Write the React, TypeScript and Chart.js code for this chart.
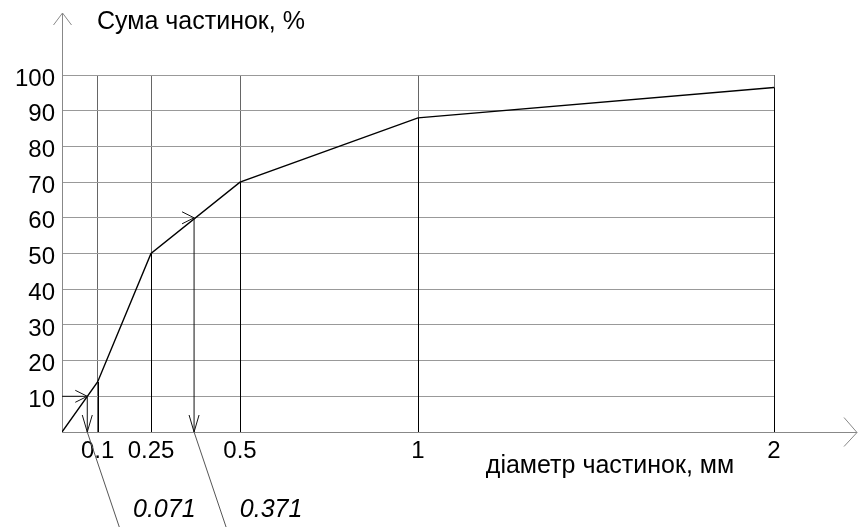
import React, { useEffect, useRef } from "react";
import { Chart, registerables } from "chart.js";

Chart.register(...registerables);

const diameters = [0, 0.1, 0.25, 0.5, 1, 2];
const cumulative = [0, 14, 50, 70, 88, 96.5];
const xTickValues = [0.1, 0.25, 0.5, 1, 2];
const yTickStep = 10;
const readX = [0.071, 0.371];
const readY = [10, 60];
const readLabels = ["0.071", "0.371"];
const yTitle = "Сума частинок, %";
const xTitle = "діаметр частинок, мм";

const FONT = "'Liberation Sans', Arial, sans-serif";

function line(ctx: CanvasRenderingContext2D, x1: number, y1: number, x2: number, y2: number) {
  ctx.beginPath();
  ctx.moveTo(x1, y1);
  ctx.lineTo(x2, y2);
  ctx.stroke();
}

const overlay = {
  id: "overlay",
  afterDraw(chart: any) {
    const ctx: CanvasRenderingContext2D = chart.ctx;
    const xs = chart.scales.x;
    const ys = chart.scales.y;
    const area = chart.chartArea;
    const x0 = xs.getPixelForValue(0);
    const y0 = ys.getPixelForValue(0);
    ctx.save();
    // drop lines
    ctx.strokeStyle = "#000";
    ctx.lineWidth = 1;
    for (let i = 1; i < diameters.length; i++) {
      const px = Math.round(xs.getPixelForValue(diameters[i])) + 0.5;
      line(ctx, px, ys.getPixelForValue(cumulative[i]), px, y0);
    }
    // axis extensions
    ctx.strokeStyle = "#888";
    line(ctx, x0 + 0.5, area.top, x0 + 0.5, 13);
    line(ctx, x0 - 8.5, 25, x0 + 0.5, 13);
    line(ctx, x0 + 9.5, 25, x0 + 0.5, 13);
    const xEnd = chart.width - 1;
    line(ctx, area.right, y0 + 0.5, xEnd, y0 + 0.5);
    line(ctx, xEnd - 13, y0 - 14.5, xEnd, y0 + 0.5);
    line(ctx, xEnd - 13, y0 + 14.5, xEnd, y0 + 0.5);
    // reading arrows
    for (let i = 0; i < readX.length; i++) {
      const px = xs.getPixelForValue(readX[i]);
      const py = ys.getPixelForValue(readY[i]);
      ctx.strokeStyle = "#111";
      if (i === 0) line(ctx, x0, py, px, py);
      line(ctx, px - 12, py - 6, px, py);
      line(ctx, px - 12, py + 6, px, py);
      line(ctx, px, py, px, y0);
      line(ctx, px - 5, y0 - 17, px, y0);
      line(ctx, px + 5, y0 - 17, px, y0);
      ctx.strokeStyle = "#555";
      line(ctx, px, y0, px + 32, chart.height);
      ctx.fillStyle = "#000";
      ctx.font = "italic 25px " + FONT;
      ctx.textAlign = "center";
      ctx.textBaseline = "middle";
      ctx.fillText(readLabels[i], px + 77, 510);
    }
    // titles
    ctx.fillStyle = "#000";
    ctx.font = "25px " + FONT;
    ctx.textAlign = "left";
    ctx.textBaseline = "middle";
    ctx.fillText(yTitle, 97, 22);
    ctx.textAlign = "center";
    ctx.fillText(xTitle, 610, 466);
    ctx.restore();
  },
};

export default function App() {
  const ref = useRef<HTMLCanvasElement>(null);
  useEffect(() => {
    if (!ref.current) return;
    const chart = new Chart(ref.current, {
      type: "line",
      data: {
        datasets: [
          {
            data: diameters.map((x, i) => ({ x, y: cumulative[i] })),
            borderColor: "#000",
            borderWidth: 1.4,
            pointRadius: 0,
            tension: 0,
            fill: false,
          },
        ],
      },
      options: {
        animation: false,
        responsive: false,
        maintainAspectRatio: false,
        layout: { padding: { top: 75, right: 84, left: 0, bottom: 0 } },
        plugins: { legend: { display: false }, tooltip: { enabled: false } },
        scales: {
          x: {
            type: "linear",
            min: 0,
            max: 2,
            afterBuildTicks: (scale: any) => {
              scale.ticks = xTickValues.map((v) => ({ value: v }));
            },
            afterFit: (scale: any) => {
              scale.height = 95;
            },
            ticks: {
              color: "#000",
              font: { size: 24, family: FONT },
              padding: 5,
              maxRotation: 0,
              autoSkip: false,
              callback: (v: any) => String(v),
            },
            grid: { color: "#666", drawTicks: false },
            border: { color: "#888" },
          },
          y: {
            min: 0,
            max: 100,
            afterFit: (scale: any) => {
              scale.width = 62;
            },
            ticks: {
              stepSize: yTickStep,
              color: "#000",
              font: { size: 24, family: FONT },
              padding: 7,
              labelOffset: 4,
              callback: (v: any) => (v === 0 ? "" : String(v)),
            },
            grid: { color: "#999", drawTicks: false },
            border: { color: "#888" },
          },
        },
      },
      plugins: [overlay],
    });
    return () => chart.destroy();
  }, []);
  return (
    <div style={{ position: "absolute", left: 0, top: 0, width: 858, height: 527, background: "#fff" }}>
      <canvas ref={ref} width={858} height={527} style={{ width: 858, height: 527 }} />
    </div>
  );
}
